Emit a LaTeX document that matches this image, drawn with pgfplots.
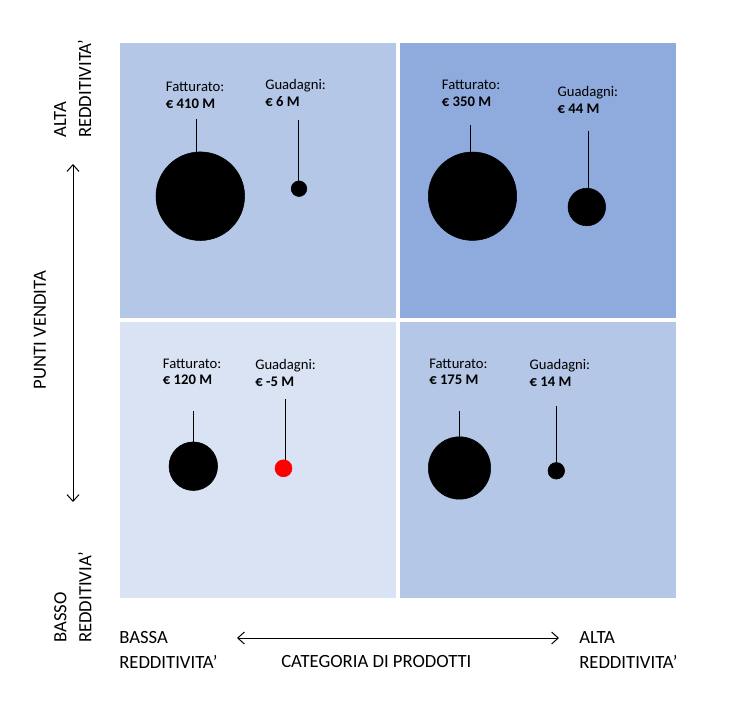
\documentclass[border=0pt]{standalone}
\usepackage{fontspec}
\setmainfont{Carlito}
\usepackage{pgfplots}
\usepackage{pgfplotstable}
\pgfplotsset{compat=1.18}
\usetikzlibrary{arrows.meta}

\definecolor{qAlto}{HTML}{8FAADC}
\definecolor{qMedio}{HTML}{B4C7E7}
\definecolor{qBasso}{HTML}{DAE3F3}
\definecolor{rosso}{HTML}{FF0000}

% bolle: centro (px) e raggio (px)
\pgfplotstableread{
x     y      r
200.3 196.2  44.3
299.0 188.7   7.8
472.5 196.2  44.2
586.8 207.0  18.8
193.3 466.2  24.3
459.5 468.0  31.2
556.3 470.8   8.3
}\bolle

\pgfplotstableread{
x     y      r
283.5 468.3   8.5
}\perdita

\begin{document}
\begin{tikzpicture}
\begin{axis}[
  width=562.5pt, height=531pt, scale only axis,
  xmin=0, xmax=750, ymin=0, ymax=708, y dir=reverse,
  hide axis, clip=false,
  bolla/.style={
    scatter, only marks, mark=*,
    scatter/use mapped color={draw=#1, fill=#1},
    visualization depends on={0.75*\thisrow{r} \as \raggio},
    scatter/@pre marker code/.append style={/tikz/mark size=\raggio},
  },
]
\path (rel axis cs:0,0) rectangle (rel axis cs:1,1);

% quadranti
\addplot[draw=none, fill=qMedio] coordinates {(120,43) (396,43) (396,318) (120,318)} -- cycle;
\addplot[draw=none, fill=qAlto]  coordinates {(400,43) (676,43) (676,318) (400,318)} -- cycle;
\addplot[draw=none, fill=qBasso] coordinates {(120,322) (396,322) (396,598) (120,598)} -- cycle;
\addplot[draw=none, fill=qMedio] coordinates {(400,322) (676,322) (676,598) (400,598)} -- cycle;

% aste
\addplot[black, line width=0.75pt, unbounded coords=jump] coordinates {
  (196.7,119.3) (196.7,156) (196.7,nan)
  (298.7,120.3) (298.7,184) (298.7,nan)
  (470.3,125.3) (470.3,156) (470.3,nan)
  (588.7,131.0) (588.7,192) (588.7,nan)
  (193.3,411.0) (193.3,446) (193.3,nan)
  (285.3,399.3) (285.3,463) (285.3,nan)
  (459.3,411.0) (459.3,441) (459.3,nan)
  (556.3,406.0) (556.3,466)
};

% bolle
\addplot[bolla=black] table {\bolle};
\addplot[bolla=rosso] table {\perdita};

% etichette
\begin{scope}[every node/.style={anchor=base west, inner sep=0pt, font=\fontsize{11}{13}\selectfont}]
\node at (axis cs:165.7,91.7)  {Fatturato:};
\node at (axis cs:165.7,108.7) {\bfseries € 410 M};
\node at (axis cs:265.0,89.3)  {Guadagni:};
\node at (axis cs:265.0,106.7) {\bfseries € 6 M};
\node at (axis cs:441.7,89.3)  {Fatturato:};
\node at (axis cs:441.7,106.3) {\bfseries € 350 M};
\node at (axis cs:557.3,96.0)  {Guadagni:};
\node at (axis cs:557.3,113.0) {\bfseries € 44 M};
\node at (axis cs:162.7,368.0) {Fatturato:};
\node at (axis cs:162.7,384.7) {\bfseries € 120 M};
\node at (axis cs:255.0,369.3) {Guadagni:};
\node at (axis cs:255.0,386.7) {\bfseries € -5 M};
\node at (axis cs:429.0,368.0) {Fatturato:};
\node at (axis cs:429.0,384.7) {\bfseries € 175 M};
\node at (axis cs:529.3,369.3) {Guadagni:};
\node at (axis cs:529.3,386.3) {\bfseries € 14 M};
\end{scope}

% assi descrittivi
\begin{scope}[every node/.style={inner sep=0pt, font=\fontsize{14}{18.75}\selectfont}]
\node[rotate=90, anchor=north west, align=left] at (axis cs:54,138) {ALTA\\REDDITIVITA’};
\node[rotate=90, anchor=north west, align=left] at (axis cs:54,643) {BASSO\\REDDITIVIA’};
\node[rotate=90, anchor=center] at (axis cs:40,330) {PUNTI VENDITA};
\node[anchor=base west, align=left] at (axis cs:119,668) {BASSA\\REDDITIVITA’};
\node[anchor=base west] at (axis cs:281,667) {CATEGORIA DI PRODOTTI};
\node[anchor=base west, align=left] at (axis cs:579,668) {ALTA\\REDDITIVITA’};
\end{scope}

\draw[{Straight Barb[length=5pt,width=9pt]}-{Straight Barb[length=5pt,width=9pt]}, line width=0.75pt]
  (axis cs:73,164) -- (axis cs:73,502);
\draw[{Straight Barb[length=5pt,width=9pt]}-{Straight Barb[length=5pt,width=9pt]}, line width=0.75pt]
  (axis cs:237,638) -- (axis cs:559,638);
\end{axis}
\end{tikzpicture}
\end{document}
